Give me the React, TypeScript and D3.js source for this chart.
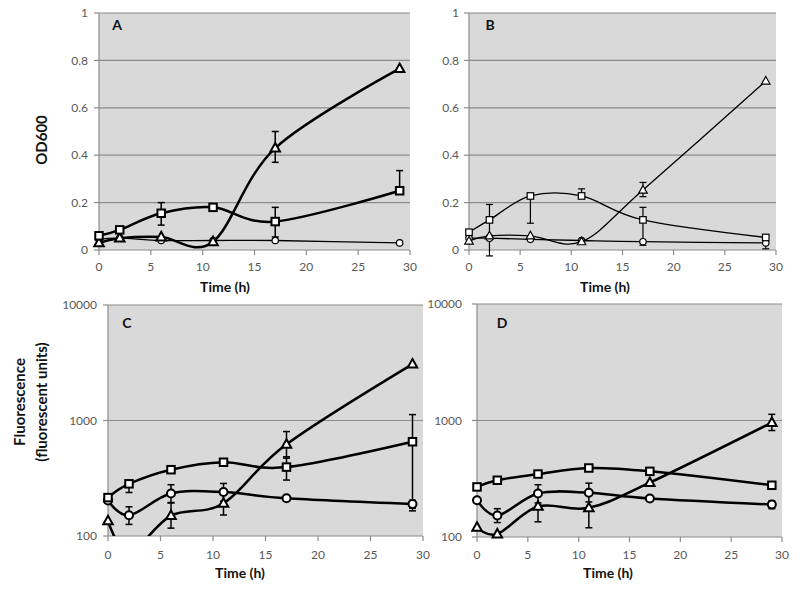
import React from 'react';
import * as d3 from 'd3';

// ---------- data ----------
const timesH = [0, 2, 6, 11, 17, 29];
const xTicks = [0, 5, 10, 15, 20, 25, 30];
const odTicks = [0, 0.2, 0.4, 0.6, 0.8, 1];
const fluoTicks = [100, 1000, 10000];

// Panel A (OD600)
const aSquare = [0.06, 0.085, 0.155, 0.18, 0.12, 0.25];
const aSquareUp = [0, 0, 0.045, 0, 0.06, 0.085];
const aSquareDown = [0, 0, 0.05, 0, 0.065, 0];
const aTriangle = [0.03, 0.05, 0.055, 0.035, 0.43, 0.765];
const aTriangleUp = [0, 0, 0, 0, 0.07, 0];
const aTriangleDown = [0, 0, 0, 0, 0.06, 0];
const aCircle = [0.045, 0.05, 0.04, 0.04, 0.04, 0.03];
const aCircleUp = [0, 0, 0, 0, 0, 0];
const aCircleDown = [0, 0, 0, 0, 0, 0];

// Panel B (OD600)
const bSquare = [0.075, 0.127, 0.228, 0.228, 0.127, 0.053];
const bSquareUp = [0, 0.065, 0, 0.03, 0.053, 0];
const bSquareDown = [0, 0.065, 0.115, 0, 0.107, 0];
const bTriangle = [0.038, 0.06, 0.06, 0.035, 0.253, 0.713];
const bTriangleUp = [0, 0, 0, 0, 0.032, 0];
const bTriangleDown = [0, 0, 0, 0, 0.028, 0];
const bCircle = [0.05, 0.05, 0.045, 0.04, 0.035, 0.03];
const bCircleUp = [0, 0, 0, 0, 0, 0];
const bCircleDown = [0, 0.075, 0, 0, 0, 0.025];

// Panel C (fluorescence)
const cSquare = [215, 283, 375, 435, 395, 655];
const cSquareUp = [0, 0, 0, 0, 90, 470];
const cSquareDown = [0, 45, 0, 0, 90, 490];
const cTriangle = [135, 72, 150, 192, 622, 3080];
const cTriangleUp = [0, 0, 45, 50, 180, 0];
const cTriangleDown = [0, 0, 33, 40, 150, 0];
const cCircle = [203, 151, 233, 240, 212, 189];
const cCircleUp = [0, 28, 45, 45, 0, 15];
const cCircleDown = [0, 25, 40, 40, 0, 15];

// Panel D (fluorescence)
const dSquare = [269, 307, 347, 391, 366, 278];
const dSquareUp = [0, 0, 0, 0, 0, 0];
const dSquareDown = [0, 0, 0, 0, 0, 0];
const dTriangle = [121, 106, 183, 178, 293, 960];
const dTriangleUp = [0, 0, 0, 0, 0, 170];
const dTriangleDown = [0, 0, 48, 58, 0, 140];
const dCircle = [207, 153, 236, 240, 214, 190];
const dCircleUp = [0, 22, 45, 50, 0, 15];
const dCircleDown = [0, 20, 40, 40, 0, 15];

type Shape = 'square' | 'triangle' | 'circle';
type Series = { values: number[]; up: number[]; down: number[]; shape: Shape; bold: boolean };

const FONT = 'Lato, "Open Sans", sans-serif';

function Marker({ shape, x, y, bold }: { shape: Shape; x: number; y: number; bold: boolean }) {
  const sw = bold ? 2 : 1.2;
  if (shape === 'square') {
    const s = bold ? 7.5 : 6.5;
    return <rect x={x - s / 2} y={y - s / 2} width={s} height={s} fill="#fff" stroke="#000" strokeWidth={sw} />;
  }
  if (shape === 'triangle') {
    const w = bold ? 9.5 : 8.5;
    const h = w * 0.9;
    const p = `M${x},${y - h * 0.6}L${x + w / 2},${y + h * 0.4}L${x - w / 2},${y + h * 0.4}Z`;
    return <path d={p} fill="#fff" stroke="#000" strokeWidth={sw} strokeLinejoin="miter" />;
  }
  const r = bold ? 4 : 3.2;
  return <circle cx={x} cy={y} r={r} fill="#fff" stroke="#000" strokeWidth={sw} />;
}

type PanelProps = {
  id: string;
  left: number; right: number; top: number; bottom: number;
  log: boolean;
  series: Series[];
  labelGap: number;
  letterX: number; letterY: number;
  xLabelX: number; xLabelY: number; xTickY: number;
};

function Panel(p: PanelProps) {
  const x = d3.scaleLinear().domain([0, 30]).range([p.left, p.right]);
  const y = p.log
    ? d3.scaleLog().domain([100, 10000]).range([p.bottom, p.top])
    : d3.scaleLinear().domain([0, 1]).range([p.bottom, p.top]);
  const yTicks = p.log ? fluoTicks : odTicks;
  const fmt = (v: number) => (p.log ? String(v) : d3.format('~g')(v));
  const clipId = `clip-${p.id}`;
  const line = d3
    .line<number>()
    .x((_, i) => x(timesH[i]))
    .y((v) => y(v))
    .curve(d3.curveCardinal.tension(0));
  const inDomain = (v: number) => (p.log ? v >= 100 && v <= 10000 : v >= 0 && v <= 1);

  return (
    <g>
      <defs>
        <clipPath id={clipId}>
          <rect x={p.left - 10} y={p.top} width={p.right - p.left + 20} height={p.bottom - p.top + (p.log ? 0 : 6)} />
        </clipPath>
      </defs>
      <rect x={p.left} y={p.top} width={p.right - p.left} height={p.bottom - p.top} fill="#d9d9d9" />
      {yTicks.map((t) => (
        <g key={t}>
          {t !== yTicks[0] && (
            <line x1={p.left} x2={p.right} y1={y(t)} y2={y(t)} stroke="#8c8c8c" strokeWidth={1.2} />
          )}
          <line x1={p.left - 5} x2={p.left} y1={y(t)} y2={y(t)} stroke="#8c8c8c" strokeWidth={1.2} />
          <text x={p.left - p.labelGap} y={y(t)} dy="0.35em" textAnchor="end" fontSize={12} fill="#595959" fontFamily={FONT}>
            {fmt(t)}
          </text>
        </g>
      ))}
      <line x1={p.left} x2={p.left} y1={p.top} y2={p.bottom} stroke="#8c8c8c" strokeWidth={1.2} />
      <line x1={p.left} x2={p.right} y1={p.bottom} y2={p.bottom} stroke="#8c8c8c" strokeWidth={1.2} />
      {xTicks.map((t) => (
        <g key={t}>
          <line x1={x(t)} x2={x(t)} y1={p.bottom} y2={p.bottom + 5} stroke="#8c8c8c" strokeWidth={1.2} />
          <text x={x(t)} y={p.xTickY} dy="0.35em" textAnchor="middle" fontSize={12} fill="#595959" fontFamily={FONT}>
            {t}
          </text>
        </g>
      ))}
      <text x={p.letterX} y={p.letterY} dy="0.35em" textAnchor="middle" fontSize={14} fontWeight="bold" fontFamily={FONT} fill="#111">
        {p.id}
      </text>
      <text x={p.xLabelX} y={p.xLabelY} dy="0.35em" textAnchor="middle" fontSize={14} fontWeight="bold" fontFamily={FONT} fill="#111">
        Time (h)
      </text>
      <g clipPath={`url(#${clipId})`}>
        {p.series.map((s, si) => (
          <path key={si} d={line(s.values) || ''} fill="none" stroke="#000" strokeWidth={s.bold ? 2.5 : 1.3} />
        ))}
      </g>
      {p.series.map((s, si) =>
        s.values.map((v, i) => {
          if (!inDomain(v)) return null;
          const cx = x(timesH[i]);
          const sw = s.bold ? 1.5 : 1.2;
          const cap = 3.5;
          const parts: React.ReactElement[] = [];
          if (s.up[i] > 0) {
            const yy = y(v + s.up[i]);
            parts.push(<line key="u" x1={cx} x2={cx} y1={y(v)} y2={yy} stroke="#000" strokeWidth={sw} />);
            parts.push(<line key="uc" x1={cx - cap} x2={cx + cap} y1={yy} y2={yy} stroke="#000" strokeWidth={sw} />);
          }
          if (s.down[i] > 0) {
            const lowV = v - s.down[i];
            const yy = p.log ? y(Math.max(lowV, 1)) : y(lowV);
            parts.push(<line key="d" x1={cx} x2={cx} y1={y(v)} y2={yy} stroke="#000" strokeWidth={sw} />);
            parts.push(<line key="dc" x1={cx - cap} x2={cx + cap} y1={yy} y2={yy} stroke="#000" strokeWidth={sw} />);
          }
          return <g key={`e${si}-${i}`}>{parts}</g>;
        })
      )}
      {p.series.map((s, si) =>
        s.values.map((v, i) =>
          inDomain(v) ? <Marker key={`m${si}-${i}`} shape={s.shape} x={x(timesH[i])} y={y(v)} bold={s.bold} /> : null
        )
      )}
    </g>
  );
}

const mk = (values: number[], up: number[], down: number[], shape: Shape, bold: boolean): Series => ({ values, up, down, shape, bold });

export default function App() {
  const seriesA = [
    mk(aCircle, aCircleUp, aCircleDown, 'circle', false),
    mk(aTriangle, aTriangleUp, aTriangleDown, 'triangle', true),
    mk(aSquare, aSquareUp, aSquareDown, 'square', true),
  ];
  const seriesB = [
    mk(bCircle, bCircleUp, bCircleDown, 'circle', false),
    mk(bTriangle, bTriangleUp, bTriangleDown, 'triangle', false),
    mk(bSquare, bSquareUp, bSquareDown, 'square', false),
  ];
  const seriesC = [
    mk(cCircle, cCircleUp, cCircleDown, 'circle', true),
    mk(cTriangle, cTriangleUp, cTriangleDown, 'triangle', true),
    mk(cSquare, cSquareUp, cSquareDown, 'square', true),
  ];
  const seriesD = [
    mk(dCircle, dCircleUp, dCircleDown, 'circle', true),
    mk(dTriangle, dTriangleUp, dTriangleDown, 'triangle', true),
    mk(dSquare, dSquareUp, dSquareDown, 'square', true),
  ];
  return (
    <svg width={800} height={589} style={{ position: 'absolute', left: 0, top: 0, background: '#fff' }}>
      <rect width={800} height={589} fill="#fff" />
      <Panel id="A" left={99} right={410} top={13} bottom={250} log={false} series={seriesA} labelGap={11}
        letterX={117} letterY={25} xLabelX={225} xLabelY={287} xTickY={267} />
      <Panel id="B" left={469} right={776} top={13} bottom={250} log={false} series={seriesB} labelGap={10}
        letterX={490} letterY={25} xLabelX={605} xLabelY={287} xTickY={267} />
      <Panel id="C" left={108} right={423} top={305} bottom={536} log={true} series={seriesC} labelGap={11}
        letterX={127} letterY={323} xLabelX={240} xLabelY={573} xTickY={555} />
      <Panel id="D" left={477} right={782} top={304} bottom={537} log={true} series={seriesD} labelGap={15}
        letterX={502} letterY={323} xLabelX={608} xLabelY={573} xTickY={555} />
      <text transform="translate(42,140) rotate(-90)" dy="0.35em" textAnchor="middle" fontSize={15} fontWeight="bold" fontFamily={FONT} fill="#111">
        OD600
      </text>
      <text transform="translate(20,402) rotate(-90)" dy="0.35em" textAnchor="middle" fontSize={15} fontWeight="bold" fontFamily={FONT} fill="#111">
        Fluorescence
      </text>
      <text transform="translate(42,402) rotate(-90)" dy="0.35em" textAnchor="middle" fontSize={15} fontWeight="bold" fontFamily={FONT} fill="#111">
        (fluorescent units)
      </text>
    </svg>
  );
}
